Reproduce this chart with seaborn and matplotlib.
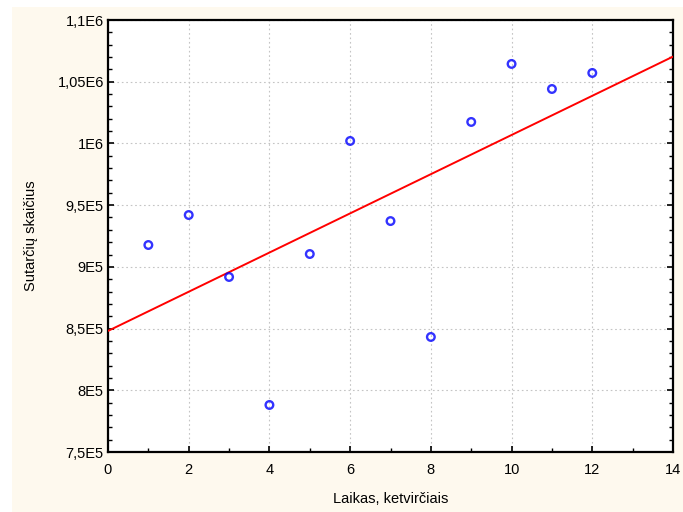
import numpy as np
import pandas as pd
import seaborn as sns
import matplotlib.pyplot as plt
from matplotlib.patches import Rectangle
from matplotlib.ticker import MultipleLocator

# Quarterly contract counts
quarters = [1, 2, 3, 4, 5, 6, 7, 8, 9, 10, 11, 12]
contracts = [917700, 942000, 891800, 788100, 910400, 1002000,
             937100, 843200, 1017400, 1064400, 1044100, 1057100]

x_ticks = [0, 2, 4, 6, 8, 10, 12, 14]
y_ticks = [750000, 800000, 850000, 900000, 950000, 1000000, 1050000, 1100000]
y_tick_labels = ["7,5E5", "8E5", "8,5E5", "9E5", "9,5E5", "1E6", "1,05E6", "1,1E6"]

df = pd.DataFrame({"quarter": quarters, "contracts": contracts})

sns.set_theme(style="white")
plt.rcParams["font.family"] = ["Liberation Sans", "DejaVu Sans"]

fig = plt.figure(figsize=(6.83, 5.12), dpi=100)
fig.patch.set_facecolor("white")
fig.patches.append(Rectangle((12 / 683, 0), 1 - 12 / 683, 1 - 7 / 512,
                             transform=fig.transFigure, facecolor="#FEF9EE",
                             edgecolor="none", zorder=-10))

ax = fig.add_axes([108 / 683, 60 / 512, (673 - 108) / 683, (452 - 20) / 512])
ax.set_zorder(5)
ax.set_facecolor("white")
ax.set_xlim(0, 14)
ax.set_ylim(750000, 1100000)

sns.regplot(data=df, x="quarter", y="contracts", ax=ax, ci=None, truncate=False,
            scatter_kws=dict(s=30, facecolors="none", edgecolors="#0000FF",
                             linewidths=1.7, zorder=4),
            line_kws=dict(color="#FF0000", lw=1.4, zorder=3))

ax.set_xlim(0, 14)
ax.set_ylim(750000, 1100000)
ax.set_xticks(x_ticks)
ax.set_xticklabels([str(t) for t in x_ticks])
ax.set_yticks(y_ticks)
ax.set_yticklabels(y_tick_labels)
ax.xaxis.set_minor_locator(MultipleLocator(1))
ax.yaxis.set_minor_locator(MultipleLocator(10000))

ax.grid(True, which="major", color="#C4C4C4", linestyle=(0, (1.5, 2.5)), linewidth=0.8)
ax.set_axisbelow(True)

for side in ["left", "right", "top", "bottom"]:
    ax.spines[side].set_visible(True)
    ax.spines[side].set_color("black")
    ax.spines[side].set_linewidth(1.6)

ax.tick_params(axis="both", which="both", direction="in", color="black",
               labelsize=10.5, labelcolor="black")
ax.tick_params(axis="y", which="both", left=True, right=True)
ax.tick_params(axis="x", which="both", bottom=True, top=False)
ax.tick_params(which="major", length=4, width=1.2)
ax.tick_params(which="minor", length=3, width=1.0)
ax.tick_params(axis="x", pad=8)
ax.tick_params(axis="y", pad=3)

ax.set_xlabel("Laikas, ketvirčiais", fontsize=10.5, color="black", labelpad=11)
ax.set_ylabel("Sutarčių skaičius", fontsize=10.5, color="black", labelpad=14)

fig.savefig("out.png", dpi=100, facecolor=fig.get_facecolor())
